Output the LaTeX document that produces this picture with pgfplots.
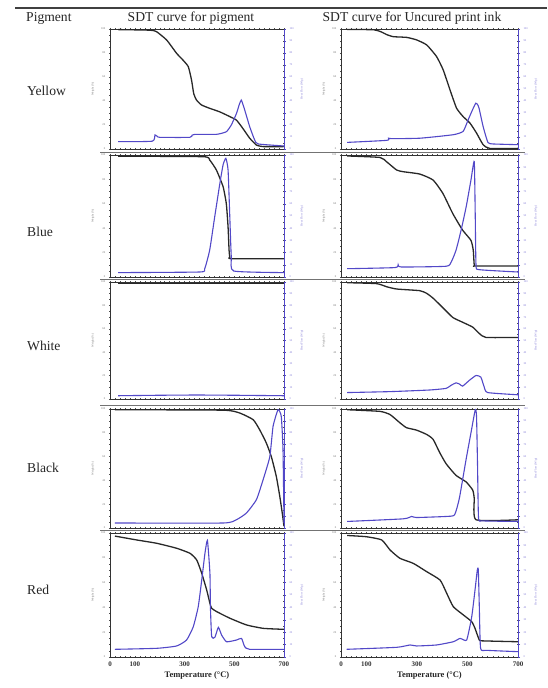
\documentclass[border=0pt]{standalone}
\usepackage{fontspec}
\setmainfont{Liberation Serif}
\usepackage{pgfplots}
\pgfplotsset{compat=1.18}
\definecolor{dtg}{RGB}{82,72,200}
\definecolor{tga}{RGB}{40,40,40}
\pgfplotsset{
 base/.style={scale only axis, anchor=south west, xmin=0, xmax=700, ymin=0, ymax=100,
  axis line style={draw=black!80, line width=0.7pt},
  xtick={0,100,...,700}, minor x tick num=4, ytick={0,20,...,100}, minor y tick num=3,
  tick style={black!70, line width=0.4pt}, tick align=center,
  major tick length=2.4pt, minor tick length=1.3pt,
  xticklabels={},
  yticklabel style={font=\fontsize{2.8}{3}\selectfont, text=black!55},
  ylabel={Weight (\%)}, ylabel style={font=\fontsize{3}{3}\selectfont, text=black!50},
  /pgf/number format/assume math mode=true},
 rightax/.style={scale only axis, anchor=south west, xmin=0, xmax=700, ymin=0, ymax=100,
  hide x axis, axis y line=right, y axis line style={-, draw=dtg, line width=0.7pt},
  ytick={0,10,...,100}, ytick style={dtg, line width=0.4pt}, tick align=outside,
  major tick length=2pt,
  yticklabel style={font=\fontsize{2.8}{3}\selectfont, text=dtg!70},
  ylabel={Heat Flow (W/g)}, ylabel style={font=\fontsize{3}{3}\selectfont, text=dtg!70},
  /pgf/number format/assume math mode=true},
 lastrow/.style={xticklabels={0,100,{},300,{},500,{},700},
  xticklabel style={font=\bfseries\fontsize{7}{8}\selectfont, text=black!80},
  xlabel={Temperature (°C)}, xlabel style={font=\bfseries\fontsize{8.5}{9}\selectfont, text=black!85, yshift=2pt}},
 blk/.style={tga, line width=1.3pt, no markers, smooth, tension=0.3},
 blu/.style={dtg, line width=1.1pt, no markers, smooth, tension=0.3},
}
\newcommand{\panel}[7]{%
 \begin{axis}[base, at={(#1pt,#2pt)}, width=#3pt, height=#4pt, #7]
 \addplot[blk] coordinates {#5};
 \end{axis}
 \begin{axis}[rightax, at={(#1pt,#2pt)}, width=#3pt, height=#4pt]
 \addplot[blu] coordinates {#6};
 \end{axis}}
\begin{document}
\begin{tikzpicture}
\path[use as bounding box] (0pt,0pt) rectangle (547pt,688pt);
\fill[white] (0pt,0pt) rectangle (547pt,688pt);
% Yellow
\panel{110}{539}{174}{120}
{(33,99.5)(161,99)(187,97.8)(228,90.8)(268,79.7)(294,74)(315,68.6)(328,57.5)(337,46)(348,40.8)(368,36.7)(401,33.9)(441,31)(482,27)(509,24)(535,17)(562,9)(589,3.3)(616,2)(700,2)}
{(33,6.1)(170,6.5)(181,11.7)(190,10.5)(201,9.7)(321,9.7)(330,11.5)(341,12.2)(428,12.2)(468,14.4)(488,20)(509,29.7)(520,37)(528,40.8)(535,37)(542,32.5)(562,18.6)(582,7.5)(596,4.2)(700,2.5)}{}
\panel{341}{539}{177}{120}
{(24,99.5)(129,99.4)(160,97.5)(181,95.3)(207,93.6)(260,93)(299,90.9)(339,86.7)(378,77)(404,66)(431,49.3)(457,34)(483,27)(510,21.6)(536,13.3)(562,3.6)(588,0.5)(700,0.5)}
{(24,5.5)(181,7.2)(188,9)(200,8.6)(313,9)(444,11.9)(483,14.7)(503,24.4)(523,34)(533,38.2)(540,37)(546,34)(562,18.8)(581,5.5)(601,4.2)(700,3.6)}{}
% Blue
\panel{110}{411}{174}{122}
{(33,99)(375,98.6)(401,95.9)(428,87.7)(455,74)(468,60)(475,41)(479,22)(482,16.4)(488,15)(700,15)}
{(33,3.6)(361,4.1)(381,6.8)(401,22)(421,49)(442,76.7)(455,92)(466,97.3)(475,87.7)(482,49)(488,16.4)(498,4.9)(700,3.6)}{}
\panel{341}{411}{177}{122}
{(24,99.2)(154,98)(180,94.5)(220,87.7)(246,86.3)(311,84.4)(364,79.5)(403,68.5)(442,52)(481,38.4)(514,30)(523,22)(527,9.6)(534,9)(700,9)}
{(24,6.8)(213,7.7)(226,10)(239,8.2)(416,8.8)(436,12.3)(455,22)(475,38.4)(495,57.5)(514,79.5)(527,94.5)(531,49)(534,9.6)(547,6)(700,4.1)}{}
% White
\panel{110}{289}{174}{117}
{(33,99)(300,99)(700,99)}
{(33,2.8)(200,3.2)(350,3.4)(500,3.2)(700,2.8)}{}
\panel{341}{289}{177}{117}
{(24,99.4)(141,98.6)(181,95.9)(220,94)(311,92.6)(338,90.4)(364,86.2)(403,78)(442,69.7)(481,65.6)(521,61.4)(547,56)(573,52.6)(700,52.6)}
{(24,5.5)(194,6.3)(351,7.7)(416,9.1)(436,11.8)(455,13.8)(469,12.7)(481,11)(508,16)(534,20.1)(553,18.7)(566,10.5)(580,5.5)(700,3.6)}{}
% Black
\panel{110}{160}{174}{119}
{(20,99.4)(455,99)(522,96.6)(576,91)(602,82.6)(629,71.4)(649,60)(669,43.4)(683,26.6)(693,12.6)(700,1.4)}
{(20,4.2)(455,4.2)(509,7)(549,12.6)(589,23.8)(616,40.6)(643,60)(656,85.4)(676,99.4)(689,93.8)(696,65.8)(700,4.2)}{}
\panel{341}{160}{177}{119}
{(24,99.4)(154,98)(194,95.3)(233,88.4)(259,84.3)(298,82.3)(338,78.7)(364,74.6)(390,63.5)(416,53.9)(455,44.2)(495,38.7)(521,31.8)(527,24.9)(534,6.9)(700,6.9)}
{(24,5.5)(246,7.7)(279,9.7)(298,8.8)(416,9.7)(449,11)(468,24.9)(495,58)(514,80)(531,99.4)(536,93.9)(540,52.5)(544,8.3)(560,6)(700,5.5)}{}
% Red
\panel{110}{31}{174}{124}
{(20,97.5)(107,94.4)(188,91.7)(268,87.7)(322,83.6)(349,78.2)(369,67.5)(389,54)(402,43.3)(409,39.3)(429,36.6)(483,31.2)(550,25.8)(617,23.1)(700,22.3)}
{(20,6.2)(188,7)(268,8.9)(308,13.7)(335,24.4)(355,40.6)(369,62)(382,83.6)(392,94)(402,67.5)(404,40.6)(409,16.4)(422,15.9)(436,23.9)(449,17.7)(469,12.3)(509,13.7)(529,15)(542,8.3)(562,6.2)(700,6.2)}{lastrow}
\panel{341}{31}{177}{124}
{(24,98)(100,97)(161,94.4)(194,86.3)(233,79.6)(286,75.5)(339,68.8)(392,62)(418,51.4)(444,40.6)(484,33.9)(517,28.5)(530,23.1)(547,13.7)(562,13)(700,12.3)}
{(22,6.2)(220,7.8)(273,9.7)(299,8.9)(378,9.7)(444,12.3)(471,15)(497,13.7)(517,32.5)(530,54)(539,70)(543,70.5)(547,40.6)(552,7)(576,5.4)(700,4.3)}{lastrow}
% table rules
\draw[black!75, line width=1.2pt] (15pt,680pt) -- (547pt,680pt);
\foreach \yy in {536,409,283,158} \draw[black!55, line width=0.8pt] (100pt,\yy pt) -- (525pt,\yy pt);
% texts
\begin{scope}[every node/.style={font=\fontsize{13.6}{15}\selectfont, text=black!85, inner sep=0pt}]
\node[anchor=west] at (26pt,670pt) {Pigment};
\node at (191pt,670pt) {SDT curve for pigment};
\node at (412pt,670pt) {SDT curve for Uncured print ink};
\node[anchor=west] at (27pt,597pt) {Yellow};
\node[anchor=west] at (27pt,456pt) {Blue};
\node[anchor=west] at (27pt,342pt) {White};
\node[anchor=west] at (27pt,220pt) {Black};
\node[anchor=west] at (27pt,98pt) {Red};
\end{scope}
\end{tikzpicture}
\end{document}
